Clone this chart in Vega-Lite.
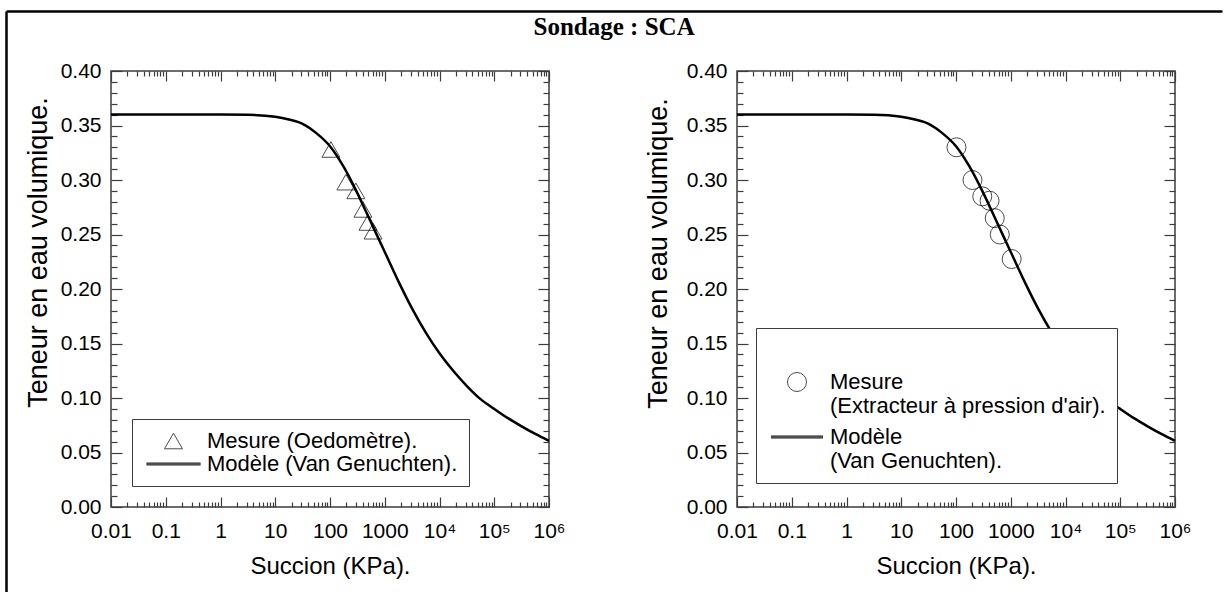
{
  "$schema": "https://vega.github.io/schema/vega-lite/v6.json",
  "background": "white",
  "padding": {"left": 2, "top": 10, "right": 0, "bottom": 0},
  "title": {"text": "Sondage : SCA", "font": "Liberation Serif", "fontSize": 25, "fontWeight": "bold", "color": "black", "anchor": "middle", "offset": -30, "dx": -51},
  "spacing": 188,
  "bounds": "flush",
  "resolve": {"scale": {"shape": "independent"}, "legend": {"shape": "independent"}},
  "config": {
    "font": "Liberation Sans",
    "axis": {"labelFont": "Liberation Sans", "titleFont": "Liberation Sans", "labelColor": "black", "titleColor": "black", "titleFontWeight": "normal", "grid": false},
    "legend": {"labelFont": "Liberation Sans"},
    "view": {"stroke": "#3c3c3c", "strokeWidth": 1.5}
  },
  "hconcat": [
    {
      "width": 438,
      "height": 436,
      "resolve": {"scale": {"x": "independent", "y": "independent"}},
      "layer": [
        {
          "resolve": {"axis": {"x": "independent", "y": "independent"}},
          "layer": [
            {
              "data": {"values": [
                {"succion": 0.01, "teneur": 0.36},
                {"succion": 0.1, "teneur": 0.36},
                {"succion": 1, "teneur": 0.36},
                {"succion": 3.16, "teneur": 0.3598},
                {"succion": 10, "teneur": 0.358},
                {"succion": 17.8, "teneur": 0.3555},
                {"succion": 31.6, "teneur": 0.3515},
                {"succion": 56.2, "teneur": 0.343},
                {"succion": 100, "teneur": 0.331},
                {"succion": 178, "teneur": 0.312},
                {"succion": 316, "teneur": 0.288},
                {"succion": 562, "teneur": 0.261},
                {"succion": 1000, "teneur": 0.234},
                {"succion": 1778, "teneur": 0.207},
                {"succion": 3162, "teneur": 0.182},
                {"succion": 5623, "teneur": 0.16},
                {"succion": 10000, "teneur": 0.141},
                {"succion": 17783, "teneur": 0.125},
                {"succion": 31623, "teneur": 0.111},
                {"succion": 56234, "teneur": 0.099},
                {"succion": 100000, "teneur": 0.09},
                {"succion": 177828, "teneur": 0.0815},
                {"succion": 316228, "teneur": 0.074},
                {"succion": 562341, "teneur": 0.067},
                {"succion": 1000000, "teneur": 0.0606}
              ]},
              "mark": {"type": "line", "color": "black", "strokeWidth": 2.5, "interpolate": "monotone"},
              "encoding": {
                "x": {"field": "succion", "type": "quantitative", "scale": {"type": "log", "domain": [0.01, 1000000], "nice": false},
                  "axis": {"orient": "bottom", "values": [0.01, 0.1, 1, 10, 100, 1000, 10000, 100000, 1000000],
                    "labelExpr": "datum.value < 0.05 ? '0.01' : datum.value < 0.5 ? '0.1' : datum.value < 5 ? '1' : datum.value < 50 ? '10' : datum.value < 500 ? '100' : datum.value < 5000 ? '1000' : datum.value < 50000 ? '10⁴' : datum.value < 500000 ? '10⁵' : '10⁶'",
                    "ticks": false, "domain": false, "labelFontSize": 21, "labelPadding": 13, "labelFlush": false, "labelOverlap": false,
                    "title": "Succion (KPa).", "titleFontSize": 24, "titleY": 47}},
                "y": {"field": "teneur", "type": "quantitative", "scale": {"domain": [0, 0.4], "nice": false, "zero": false},
                  "axis": {"orient": "left", "values": [0, 0.05, 0.1, 0.15, 0.2, 0.25, 0.3, 0.35, 0.4], "format": ".2f",
                    "ticks": false, "domain": false, "labelFontSize": 21, "labelPadding": 10, "labelFlush": false, "labelOverlap": false,
                    "title": "Teneur en eau volumique.", "titleFontSize": 27, "titleX": -59, "titleY": 181}}
              }
            },
            {
              "data": {"values": [
                {"succion": 104, "teneur": 0.328, "serie": "Mesure (Oedomètre)."},
                {"succion": 195, "teneur": 0.298, "serie": "Mesure (Oedomètre)."},
                {"succion": 297, "teneur": 0.29, "serie": "Mesure (Oedomètre)."},
                {"succion": 400, "teneur": 0.273, "serie": "Mesure (Oedomètre)."},
                {"succion": 495, "teneur": 0.261, "serie": "Mesure (Oedomètre)."},
                {"succion": 611, "teneur": 0.253, "serie": "Mesure (Oedomètre)."}
              ]},
              "mark": {"type": "point", "filled": false, "color": "black", "size": 324, "strokeWidth": 1},
              "encoding": {
                "x": {"field": "succion", "type": "quantitative", "scale": {"type": "log", "domain": [0.01, 1000000], "nice": false},
                  "axis": {"orient": "bottom", "values": [0.01,0.02,0.03,0.04,0.05,0.06,0.07,0.08,0.09,0.1,0.2,0.3,0.4,0.5,0.6,0.7,0.8,0.9,1,2,3,4,5,6,7,8,9,10,20,30,40,50,60,70,80,90,100,200,300,400,500,600,700,800,900,1000,2000,3000,4000,5000,6000,7000,8000,9000,10000,20000,30000,40000,50000,60000,70000,80000,90000,100000,200000,300000,400000,500000,600000,700000,800000,900000,1000000],
                    "labels": false, "domain": false, "title": null, "tickColor": "#3c3c3c", "tickWidth": 1.2,
                    "tickSize": {"condition": {"test": "abs(log(datum.value)/LN10 - round(log(datum.value)/LN10)) < 0.01", "value": -10}, "value": -5}}},
                "y": {"field": "teneur", "type": "quantitative", "scale": {"domain": [0, 0.4], "nice": false, "zero": false},
                  "axis": {"orient": "left", "values": [0,0.01,0.02,0.03,0.04,0.05,0.06,0.07,0.08,0.09,0.1,0.11,0.12,0.13,0.14,0.15,0.16,0.17,0.18,0.19,0.2,0.21,0.22,0.23,0.24,0.25,0.26,0.27,0.28,0.29,0.3,0.31,0.32,0.33,0.34,0.35,0.36,0.37,0.38,0.39,0.4],
                    "labels": false, "domain": false, "title": null, "tickColor": "#3c3c3c", "tickWidth": 1.2,
                    "tickSize": {"condition": {"test": "abs(datum.value*20 - round(datum.value*20)) < 0.01", "value": -11}, "value": -6}}},
                "shape": {"field": "serie", "type": "nominal",
                  "scale": {"domain": ["Mesure (Oedomètre).", "Modèle (Van Genuchten)."], "range": ["triangle-up", "M-3,-0.12H3M-3,-0.06H3M-3,0H3M-3,0.06H3M-3,0.12H3"]},
                  "legend": {"orient": "none", "legendX": 21, "legendY": 348, "title": null, "strokeColor": "#3c3c3c", "fillColor": "white", "padding": 11, "labelFontSize": 22, "labelColor": "black", "labelOffset": 22.5, "rowPadding": 1, "labelLimit": 500, "symbolSize": 324, "symbolOffset": 19.5, "symbolStrokeColor": "black", "symbolFillColor": "transparent", "symbolStrokeWidth": 1, "zindex": 1,
                    "encode": {"legend": {"update": {"strokeWidth": {"value": 1.5}}}}}}
              }
            },
            {
              "data": {"values": [
                {"succion": 104, "teneur": 0.328}
              ]},
              "mark": {"type": "point", "opacity": 0},
              "encoding": {
                "x": {"field": "succion", "type": "quantitative", "scale": {"type": "log", "domain": [0.01, 1000000], "nice": false},
                  "axis": {"orient": "top", "values": [0.01,0.02,0.03,0.04,0.05,0.06,0.07,0.08,0.09,0.1,0.2,0.3,0.4,0.5,0.6,0.7,0.8,0.9,1,2,3,4,5,6,7,8,9,10,20,30,40,50,60,70,80,90,100,200,300,400,500,600,700,800,900,1000,2000,3000,4000,5000,6000,7000,8000,9000,10000,20000,30000,40000,50000,60000,70000,80000,90000,100000,200000,300000,400000,500000,600000,700000,800000,900000,1000000],
                    "labels": false, "domain": false, "title": null, "tickColor": "#3c3c3c", "tickWidth": 1.2,
                    "tickSize": {"condition": {"test": "abs(log(datum.value)/LN10 - round(log(datum.value)/LN10)) < 0.01", "value": -10}, "value": -5}}},
                "y": {"field": "teneur", "type": "quantitative", "scale": {"domain": [0, 0.4], "nice": false, "zero": false},
                  "axis": {"orient": "right", "values": [0,0.01,0.02,0.03,0.04,0.05,0.06,0.07,0.08,0.09,0.1,0.11,0.12,0.13,0.14,0.15,0.16,0.17,0.18,0.19,0.2,0.21,0.22,0.23,0.24,0.25,0.26,0.27,0.28,0.29,0.3,0.31,0.32,0.33,0.34,0.35,0.36,0.37,0.38,0.39,0.4],
                    "labels": false, "domain": false, "title": null, "tickColor": "#3c3c3c", "tickWidth": 1.2,
                    "tickSize": {"condition": {"test": "abs(datum.value*20 - round(datum.value*20)) < 0.01", "value": -11}, "value": -6}}}
              }
            }
          ]
        },
        {
          "data": {"values": [{"bord_x": 0, "bord_y": 0}]},
          "mark": {"type": "point", "opacity": 0},
          "encoding": {
            "x": {"field": "bord_x", "type": "quantitative", "scale": {"domain": [0, 1], "range": [-105, 1111]},
              "axis": {"orient": "top", "offset": 60, "domain": true, "domainColor": "black", "domainWidth": 2.5, "ticks": false, "labels": false, "title": null}},
            "y": {"field": "bord_y", "type": "quantitative", "scale": {"domain": [0, 1], "range": [522, -60]},
              "axis": {"orient": "left", "offset": 105, "domain": true, "domainColor": "black", "domainWidth": 2.5, "ticks": false, "labels": false, "title": null}}
          }
        }
      ]
    },
    {
      "width": 438,
      "height": 436,
      "resolve": {"axis": {"x": "independent", "y": "independent"}},
      "layer": [
        {
          "data": {"values": [
            {"succion": 0.01, "teneur": 0.36},
            {"succion": 0.1, "teneur": 0.36},
            {"succion": 1, "teneur": 0.36},
            {"succion": 3.16, "teneur": 0.3598},
            {"succion": 10, "teneur": 0.358},
            {"succion": 17.8, "teneur": 0.3555},
            {"succion": 31.6, "teneur": 0.3515},
            {"succion": 56.2, "teneur": 0.343},
            {"succion": 100, "teneur": 0.331},
            {"succion": 178, "teneur": 0.312},
            {"succion": 316, "teneur": 0.288},
            {"succion": 562, "teneur": 0.261},
            {"succion": 1000, "teneur": 0.234},
            {"succion": 1778, "teneur": 0.207},
            {"succion": 3162, "teneur": 0.182},
            {"succion": 5623, "teneur": 0.16},
            {"succion": 10000, "teneur": 0.141},
            {"succion": 17783, "teneur": 0.125},
            {"succion": 31623, "teneur": 0.111},
            {"succion": 56234, "teneur": 0.099},
            {"succion": 100000, "teneur": 0.09},
            {"succion": 177828, "teneur": 0.0815},
            {"succion": 316228, "teneur": 0.074},
            {"succion": 562341, "teneur": 0.067},
            {"succion": 1000000, "teneur": 0.0606}
          ]},
          "mark": {"type": "line", "color": "black", "strokeWidth": 2.5, "interpolate": "monotone"},
          "encoding": {
            "x": {"field": "succion", "type": "quantitative", "scale": {"type": "log", "domain": [0.01, 1000000], "nice": false},
              "axis": {"orient": "bottom", "values": [0.01, 0.1, 1, 10, 100, 1000, 10000, 100000, 1000000],
                "labelExpr": "datum.value < 0.05 ? '0.01' : datum.value < 0.5 ? '0.1' : datum.value < 5 ? '1' : datum.value < 50 ? '10' : datum.value < 500 ? '100' : datum.value < 5000 ? '1000' : datum.value < 50000 ? '10⁴' : datum.value < 500000 ? '10⁵' : '10⁶'",
                "ticks": false, "domain": false, "labelFontSize": 21, "labelPadding": 13, "labelFlush": false, "labelOverlap": false,
                "title": "Succion (KPa).", "titleFontSize": 24, "titleY": 47}},
            "y": {"field": "teneur", "type": "quantitative", "scale": {"domain": [0, 0.4], "nice": false, "zero": false},
              "axis": {"orient": "left", "values": [0, 0.05, 0.1, 0.15, 0.2, 0.25, 0.3, 0.35, 0.4], "format": ".2f",
                "ticks": false, "domain": false, "labelFontSize": 21, "labelPadding": 10, "labelFlush": false, "labelOverlap": false,
                "title": "Teneur en eau volumique.", "titleFontSize": 27, "titleX": -65, "titleY": 182}}
          }
        },
        {
          "data": {"values": [
            {"succion": 102, "teneur": 0.33, "serie": "Mesure (Extracteur à pression d'air)."},
            {"succion": 200, "teneur": 0.3, "serie": "Mesure (Extracteur à pression d'air)."},
            {"succion": 302, "teneur": 0.285, "serie": "Mesure (Extracteur à pression d'air)."},
            {"succion": 410, "teneur": 0.281, "serie": "Mesure (Extracteur à pression d'air)."},
            {"succion": 510, "teneur": 0.265, "serie": "Mesure (Extracteur à pression d'air)."},
            {"succion": 630, "teneur": 0.25, "serie": "Mesure (Extracteur à pression d'air)."},
            {"succion": 1040, "teneur": 0.2275, "serie": "Mesure (Extracteur à pression d'air)."}
          ]},
          "mark": {"type": "point", "filled": false, "color": "black", "size": 361, "strokeWidth": 1},
          "encoding": {
            "x": {"field": "succion", "type": "quantitative", "scale": {"type": "log", "domain": [0.01, 1000000], "nice": false},
              "axis": {"orient": "bottom", "values": [0.01,0.02,0.03,0.04,0.05,0.06,0.07,0.08,0.09,0.1,0.2,0.3,0.4,0.5,0.6,0.7,0.8,0.9,1,2,3,4,5,6,7,8,9,10,20,30,40,50,60,70,80,90,100,200,300,400,500,600,700,800,900,1000,2000,3000,4000,5000,6000,7000,8000,9000,10000,20000,30000,40000,50000,60000,70000,80000,90000,100000,200000,300000,400000,500000,600000,700000,800000,900000,1000000],
                "labels": false, "domain": false, "title": null, "tickColor": "#3c3c3c", "tickWidth": 1.2,
                "tickSize": {"condition": {"test": "abs(log(datum.value)/LN10 - round(log(datum.value)/LN10)) < 0.01", "value": -10}, "value": -5}}},
            "y": {"field": "teneur", "type": "quantitative", "scale": {"domain": [0, 0.4], "nice": false, "zero": false},
              "axis": {"orient": "left", "values": [0,0.01,0.02,0.03,0.04,0.05,0.06,0.07,0.08,0.09,0.1,0.11,0.12,0.13,0.14,0.15,0.16,0.17,0.18,0.19,0.2,0.21,0.22,0.23,0.24,0.25,0.26,0.27,0.28,0.29,0.3,0.31,0.32,0.33,0.34,0.35,0.36,0.37,0.38,0.39,0.4],
                "labels": false, "domain": false, "title": null, "tickColor": "#3c3c3c", "tickWidth": 1.2,
                "tickSize": {"condition": {"test": "abs(datum.value*20 - round(datum.value*20)) < 0.01", "value": -11}, "value": -6}}},
            "shape": {"field": "serie", "type": "nominal",
              "scale": {"domain": ["Mesure (Extracteur à pression d'air).", "Modèle (Van Genuchten)."], "range": ["circle", "M-2.74,-0.12H2.74M-2.74,-0.06H2.74M-2.74,0H2.74M-2.74,0.06H2.74M-2.74,0.12H2.74"]},
              "legend": {"orient": "none", "legendX": 19, "legendY": 257, "title": " ", "titleFontSize": 21, "titlePadding": 11, "strokeColor": "#3c3c3c", "fillColor": "white", "padding": 11, "labelFontSize": 22, "labelColor": "black", "labelOffset": 22, "rowPadding": 9, "labelLimit": 500, "symbolSize": 361, "symbolOffset": 19, "symbolStrokeColor": "black", "symbolFillColor": "transparent", "symbolStrokeWidth": 1, "zindex": 1,
                "labelExpr": "datum.label == 'Modèle (Van Genuchten).' ? ['Modèle', '(Van Genuchten).'] : ['Mesure', \"(Extracteur à pression d'air).\"]",
                "encode": {"legend": {"update": {"strokeWidth": {"value": 1.5}}},
                  "labels": {"update": {"lineHeight": {"value": 24}}}}}}
          }
        },
        {
          "data": {"values": [
            {"succion": 102, "teneur": 0.33}
          ]},
          "mark": {"type": "point", "opacity": 0},
          "encoding": {
            "x": {"field": "succion", "type": "quantitative", "scale": {"type": "log", "domain": [0.01, 1000000], "nice": false},
              "axis": {"orient": "top", "values": [0.01,0.02,0.03,0.04,0.05,0.06,0.07,0.08,0.09,0.1,0.2,0.3,0.4,0.5,0.6,0.7,0.8,0.9,1,2,3,4,5,6,7,8,9,10,20,30,40,50,60,70,80,90,100,200,300,400,500,600,700,800,900,1000,2000,3000,4000,5000,6000,7000,8000,9000,10000,20000,30000,40000,50000,60000,70000,80000,90000,100000,200000,300000,400000,500000,600000,700000,800000,900000,1000000],
                "labels": false, "domain": false, "title": null, "tickColor": "#3c3c3c", "tickWidth": 1.2,
                "tickSize": {"condition": {"test": "abs(log(datum.value)/LN10 - round(log(datum.value)/LN10)) < 0.01", "value": -10}, "value": -5}}},
            "y": {"field": "teneur", "type": "quantitative", "scale": {"domain": [0, 0.4], "nice": false, "zero": false},
              "axis": {"orient": "right", "values": [0,0.01,0.02,0.03,0.04,0.05,0.06,0.07,0.08,0.09,0.1,0.11,0.12,0.13,0.14,0.15,0.16,0.17,0.18,0.19,0.2,0.21,0.22,0.23,0.24,0.25,0.26,0.27,0.28,0.29,0.3,0.31,0.32,0.33,0.34,0.35,0.36,0.37,0.38,0.39,0.4],
                "labels": false, "domain": false, "title": null, "tickColor": "#3c3c3c", "tickWidth": 1.2,
                "tickSize": {"condition": {"test": "abs(datum.value*20 - round(datum.value*20)) < 0.01", "value": -11}, "value": -6}}}
          }
        }
      ]
    }
  ]
}
